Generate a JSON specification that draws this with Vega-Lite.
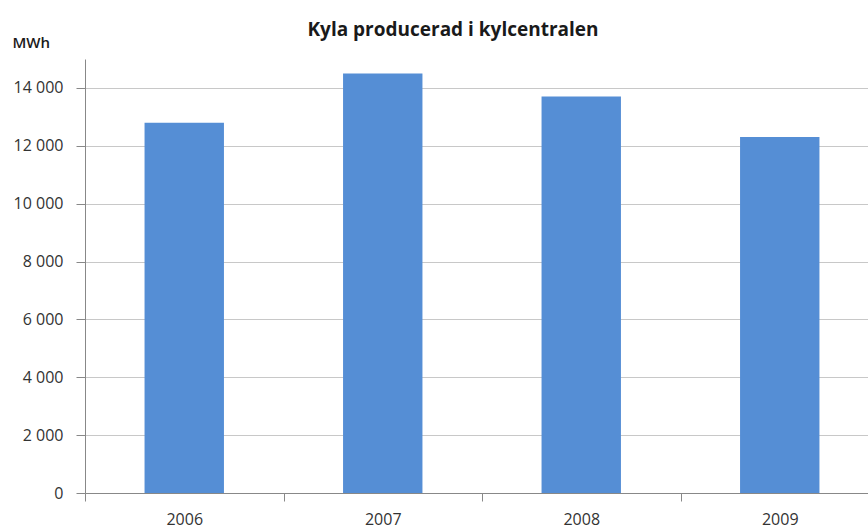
{
  "$schema": "https://vega.github.io/schema/vega-lite/v6.json",
  "autosize": "none",
  "padding": {"left": 85, "top": 59, "right": 0, "bottom": 36},
  "width": 794,
  "height": 434,
  "background": "white",
  "title": {
    "text": "Kyla producerad i kylcentralen",
    "font": "Open Sans",
    "fontSize": 19,
    "fontWeight": "bold",
    "color": "#1a1a1a",
    "anchor": "middle",
    "dx": -29,
    "offset": -5
  },
  "data": {
    "values": [
      {"year": "2006", "mwh": 12800},
      {"year": "2007", "mwh": 14500},
      {"year": "2008", "mwh": 13700},
      {"year": "2009", "mwh": 12300}
    ]
  },
  "config": {
    "view": {"stroke": null},
    "axis": {"labelFont": "Open Sans", "titleFont": "Open Sans"}
  },
  "mark": {"type": "bar", "color": "#558ED5", "width": {"band": 0.4}},
  "encoding": {
    "x": {
      "field": "year",
      "type": "ordinal",
      "scale": {"paddingInner": 0, "paddingOuter": 0},
      "axis": {
        "title": null,
        "labelAngle": 0,
        "labelFontSize": 16,
        "labelColor": "#333333",
        "labelPadding": 10,
        "tickBand": "extent",
        "tickSize": 8,
        "tickColor": "#888888",
        "domainColor": "#888888",
        "grid": false
      }
    },
    "y": {
      "field": "mwh",
      "type": "quantitative",
      "scale": {"domain": [0, 15000], "nice": false},
      "axis": {
        "values": [0, 2000, 4000, 6000, 8000, 10000, 12000, 14000],
        "labelExpr": "replace(format(datum.value, ','), ',', ' ')",
        "labelFontSize": 16,
        "labelColor": "#333333",
        "labelPadding": 13,
        "tickSize": 9,
        "tickColor": "#888888",
        "domainColor": "#888888",
        "gridColor": "#c8c8c8",
        "title": "MWh",
        "titleAngle": 0,
        "titleAlign": "left",
        "titleBaseline": "middle",
        "titleX": -73,
        "titleY": -17,
        "titleFontSize": 15,
        "titleFontWeight": 600,
        "titleColor": "#1a1a1a"
      }
    }
  }
}
